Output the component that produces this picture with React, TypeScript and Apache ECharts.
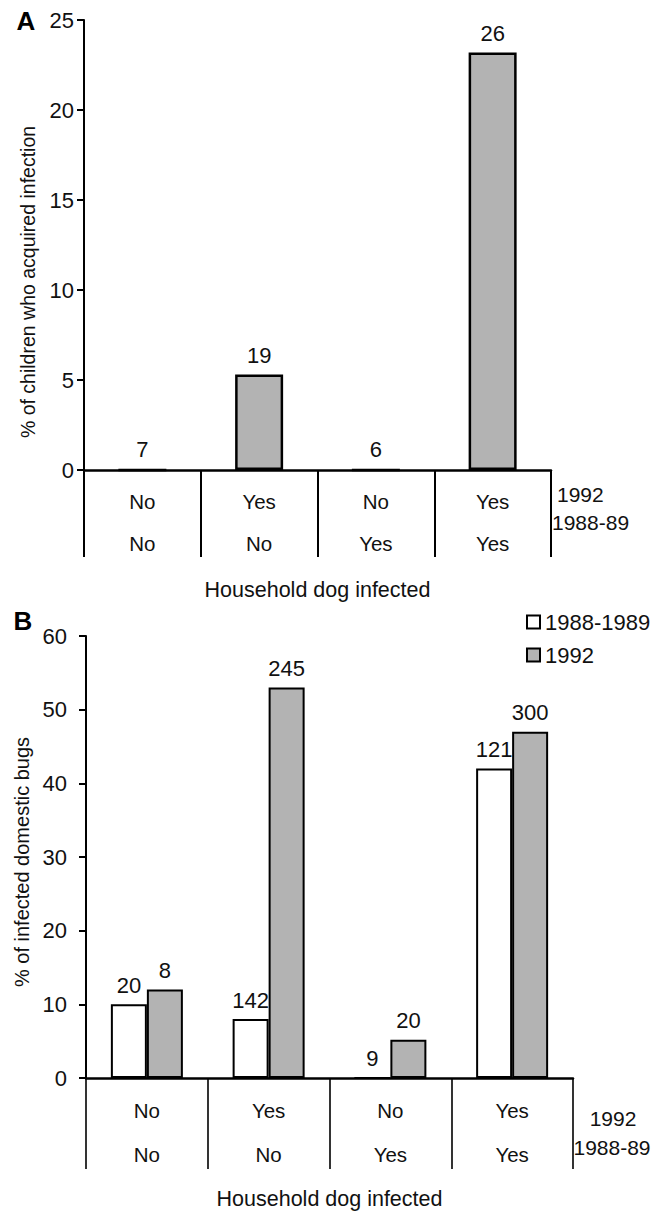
import React, { useEffect, useRef } from "react";
import * as echarts from "echarts";

// Panel A data
const rowA1992 = ["No", "Yes", "No", "Yes"];
const rowA8889 = ["No", "No", "Yes", "Yes"];
const valuesA = [0, 5.3, 0, 23.2];
const countsA = ["7", "19", "6", "26"];
const ticksA = { min: 0, max: 25, interval: 5 };

// Panel B data
const rowB1992 = ["No", "Yes", "No", "Yes"];
const rowB8889 = ["No", "No", "Yes", "Yes"];
const valuesB8889 = [10, 8, 0, 42];
const valuesB1992 = [12, 53, 5.2, 47];
const countsB8889 = ["20", "142", "9", "121"];
const countsB1992 = ["8", "245", "20", "300"];
const ticksB = { min: 0, max: 60, interval: 10 };

const seriesNames = ["1988-1989", "1992"];

const FONT = "'Liberation Sans', Arial, Helvetica, sans-serif";
const GRAY = "#b3b3b3";

export default function App() {
  const ref = useRef<HTMLDivElement>(null);
  useEffect(() => {
    if (!ref.current) return;
    const chart = echarts.init(ref.current, null, { renderer: "svg" });
    const catsA = rowA1992.map((v, i) => v + "\n" + rowA8889[i]);
    const catsB = rowB1992.map((v, i) => v + "\n" + rowB8889[i]);
    const txt = { color: "#111", fontFamily: FONT, fontSize: 21 };
    const xAxisBase = (cats: string[], tickLen: number, lh: number, lw: number) => ({
      type: "category",
      data: cats,
      axisLine: { show: true, lineStyle: { color: "#000", width: 2.5 } },
      axisTick: { show: true, interval: 0, length: tickLen, lineStyle: { color: "#000", width: lw } },
      axisLabel: { ...txt, fontSize: 20.5, interval: 0, lineHeight: lh, margin: 10 },
      name: "Household dog infected",
      nameLocation: "middle",
      nameTextStyle: { ...txt, fontSize: 21.5 },
      splitLine: { show: false },
    });
    const yAxisBase = (t: any, name: string, gap: number, pad: number, margin: number, fs: number) => ({
      type: "value",
      min: t.min,
      max: t.max,
      interval: t.interval,
      axisLine: { show: true, lineStyle: { color: "#000", width: 2 } },
      axisTick: { show: true, length: 7, lineStyle: { color: "#000", width: 2 } },
      axisLabel: { ...txt, fontSize: 22, margin },
      splitLine: { show: false },
      name,
      nameLocation: "middle",
      nameGap: gap,
      nameTextStyle: { ...txt, fontSize: fs, padding: [0, pad, 0, 0] },
    });
    const labelOf = (arr: string[]) => ({
      show: true,
      position: "top",
      distance: 8,
      ...txt,
      fontSize: 22,
      formatter: (p: any) => arr[p.dataIndex],
    });
    const option: any = {
      animation: false,
      backgroundColor: "#fff",
      grid: [
        { left: 84, top: 20, width: 467, height: 450 },
        { left: 86, top: 636, width: 487, height: 450 },
      ],
      xAxis: [
        { ...xAxisBase(catsA, 87, 42, 2), gridIndex: 0, nameGap: 109 },
        { ...xAxisBase(catsB, 91, 44, 1.6), gridIndex: 1, nameGap: 110 },
      ],
      yAxis: [
        { ...yAxisBase(ticksA, "% of children who acquired infection", 46, 74, 10, 19.5), gridIndex: 0 },
        { ...yAxisBase(ticksB, "% of infected domestic bugs", 48, 10, 19, 20), gridIndex: 1 },
      ],
      legend: {
        data: seriesNames,
        orient: "vertical",
        left: 521,
        top: 606,
        itemWidth: 13,
        itemHeight: 13,
        itemGap: 11,
        icon: "rect",
        textStyle: { ...txt, fontSize: 22 },
        selectedMode: false,
      },
      series: [
        {
          name: "A-1992",
          type: "bar",
          xAxisIndex: 0,
          yAxisIndex: 0,
          data: valuesA,
          barWidth: 48,
          itemStyle: { color: GRAY, borderColor: "#000", borderWidth: 2.5 },
          label: labelOf(countsA),
        },
        {
          name: seriesNames[0],
          type: "bar",
          xAxisIndex: 1,
          yAxisIndex: 1,
          data: valuesB8889,
          barWidth: 36,
          barGap: "0%",
          itemStyle: { color: "#fff", borderColor: "#000", borderWidth: 2 },
          label: labelOf(countsB8889),
        },
        {
          name: seriesNames[1],
          type: "bar",
          xAxisIndex: 1,
          yAxisIndex: 1,
          data: valuesB1992,
          barWidth: 36,
          barGap: "0%",
          itemStyle: { color: GRAY, borderColor: "#000", borderWidth: 2 },
          label: labelOf(countsB1992),
        },
      ],
      graphic: [
        { type: "text", x: 26, y: 21, style: { text: "A", fontSize: 26, fontWeight: "bold", fontFamily: FONT, fill: "#000", align: "center", verticalAlign: "middle" } },
        { type: "text", x: 23, y: 621, style: { text: "B", fontSize: 26, fontWeight: "bold", fontFamily: FONT, fill: "#000", align: "center", verticalAlign: "middle" } },
        { type: "text", x: 557, y: 494, style: { text: "1992", fontFamily: FONT, fontSize: 21, fill: "#111", align: "left", verticalAlign: "middle" } },
        { type: "text", x: 552, y: 522, style: { text: "1988-89", fontFamily: FONT, fontSize: 21, fill: "#111", align: "left", verticalAlign: "middle" } },
        { type: "text", x: 613, y: 1118, style: { text: "1992", fontFamily: FONT, fontSize: 21, fill: "#111", align: "center", verticalAlign: "middle" } },
        { type: "text", x: 612, y: 1147, style: { text: "1988-89", fontFamily: FONT, fontSize: 21, fill: "#111", align: "center", verticalAlign: "middle" } },
      ],
    };
    chart.setOption(option);
    return () => chart.dispose();
  }, []);
  return (
    <div
      ref={ref}
      style={{ position: "absolute", left: 0, top: 0, width: 664, height: 1211, background: "#fff" }}
    />
  );
}
